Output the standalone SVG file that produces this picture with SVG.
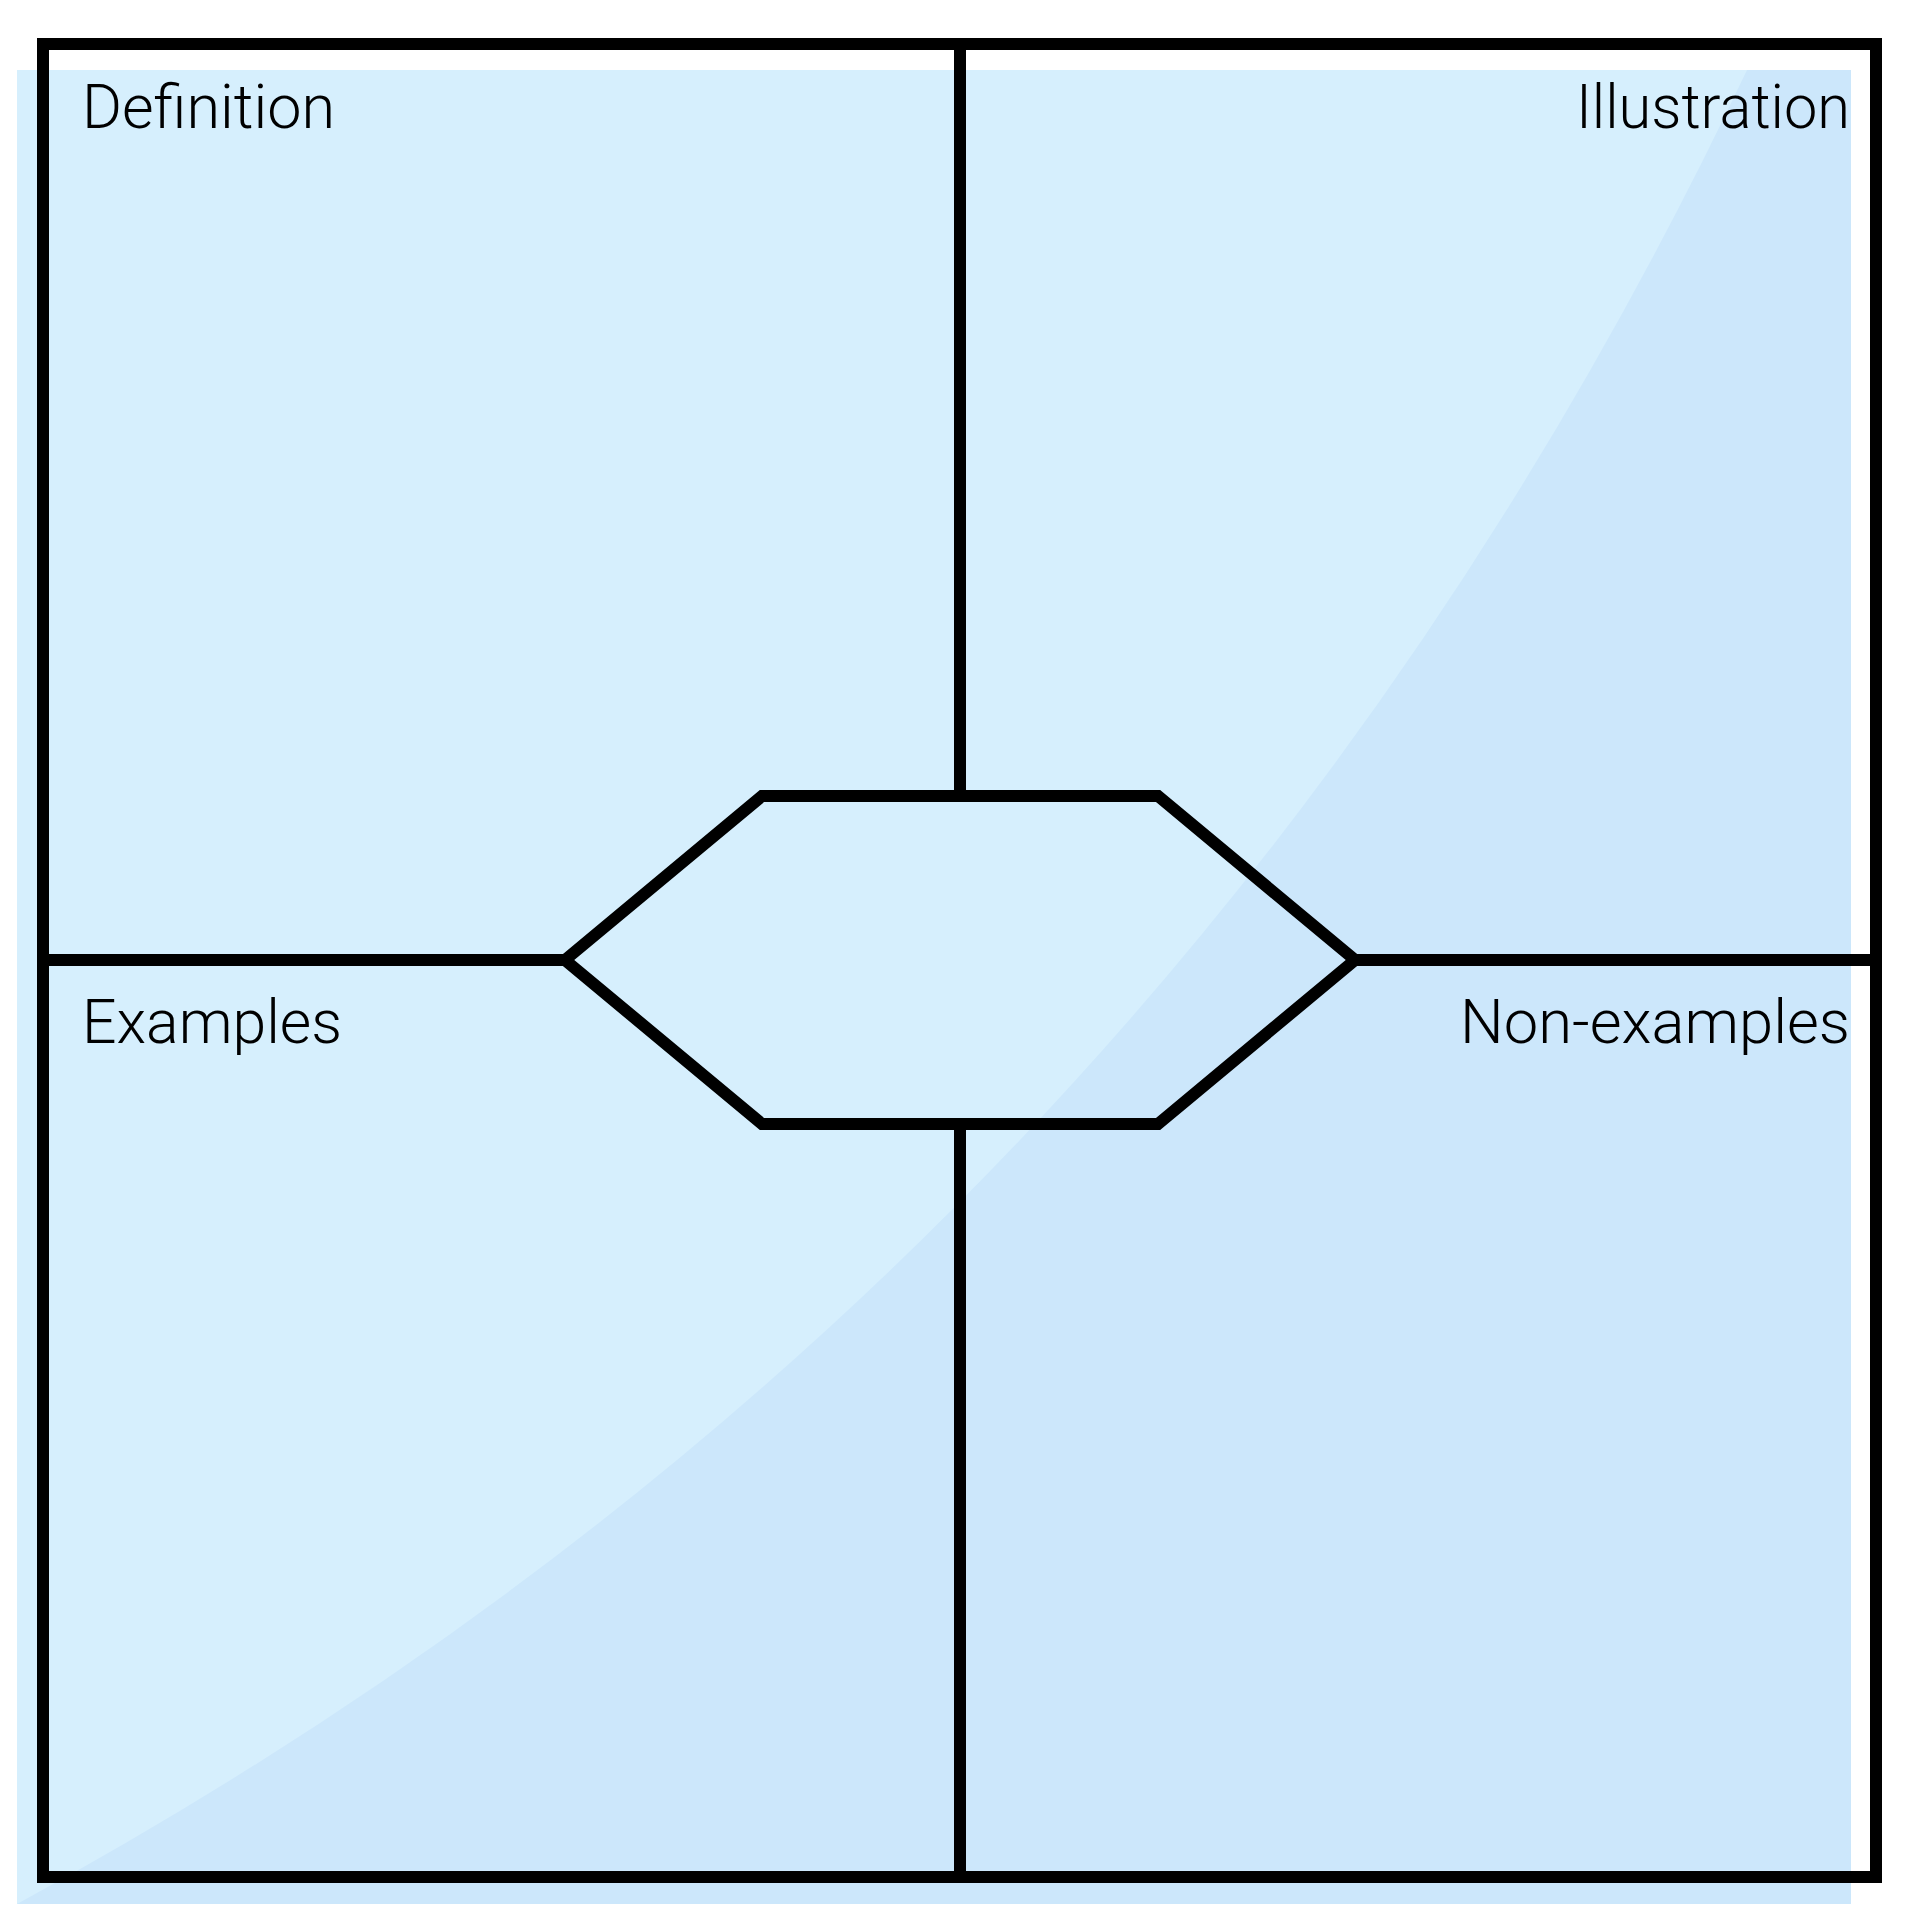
<svg xmlns="http://www.w3.org/2000/svg" width="1920" height="1920" viewBox="0 0 1920 1920">
<style>
.ln{fill:none;stroke:#000;stroke-width:12;stroke-linejoin:miter;stroke-linecap:butt}
.lbl{font-family:Roboto,"Liberation Sans",sans-serif;font-weight:300;font-size:62px;fill:#000}
</style>
<rect width="1920" height="1920" fill="#ffffff"/>
<g id="background">
<rect x="17" y="70" width="1834" height="1834" fill="#cce7fb"/>
<path d="M17,70 H1747 Q1175,1275 17,1904 Z" fill="#d6effd"/>
</g>
<g id="frame">
<rect class="ln" x="43" y="44" width="1833" height="1833"/>
</g>
<g id="connectors">
<line class="ln" x1="960" y1="44" x2="960" y2="796"/>
<line class="ln" x1="960" y1="1124" x2="960" y2="1877"/>
<line class="ln" x1="43" y1="960" x2="565" y2="960"/>
<line class="ln" x1="1355" y1="960" x2="1876" y2="960"/>
</g>
<g id="center">
<polygon class="ln" points="565,960 762,796 1158,796 1355,960 1158,1124 762,1124"/>
</g>
<g id="definition"><text class="lbl" x="82" y="128" textLength="253" lengthAdjust="spacingAndGlyphs">Definition</text></g>
<g id="illustration"><text class="lbl" x="1850" y="128" text-anchor="end" textLength="274" lengthAdjust="spacingAndGlyphs">Illustration</text></g>
<g id="examples"><text class="lbl" x="82" y="1043" textLength="260" lengthAdjust="spacingAndGlyphs">Examples</text></g>
<g id="non-examples"><text class="lbl" x="1850" y="1043" text-anchor="end" textLength="390" lengthAdjust="spacingAndGlyphs">Non-examples</text></g>
</svg>
